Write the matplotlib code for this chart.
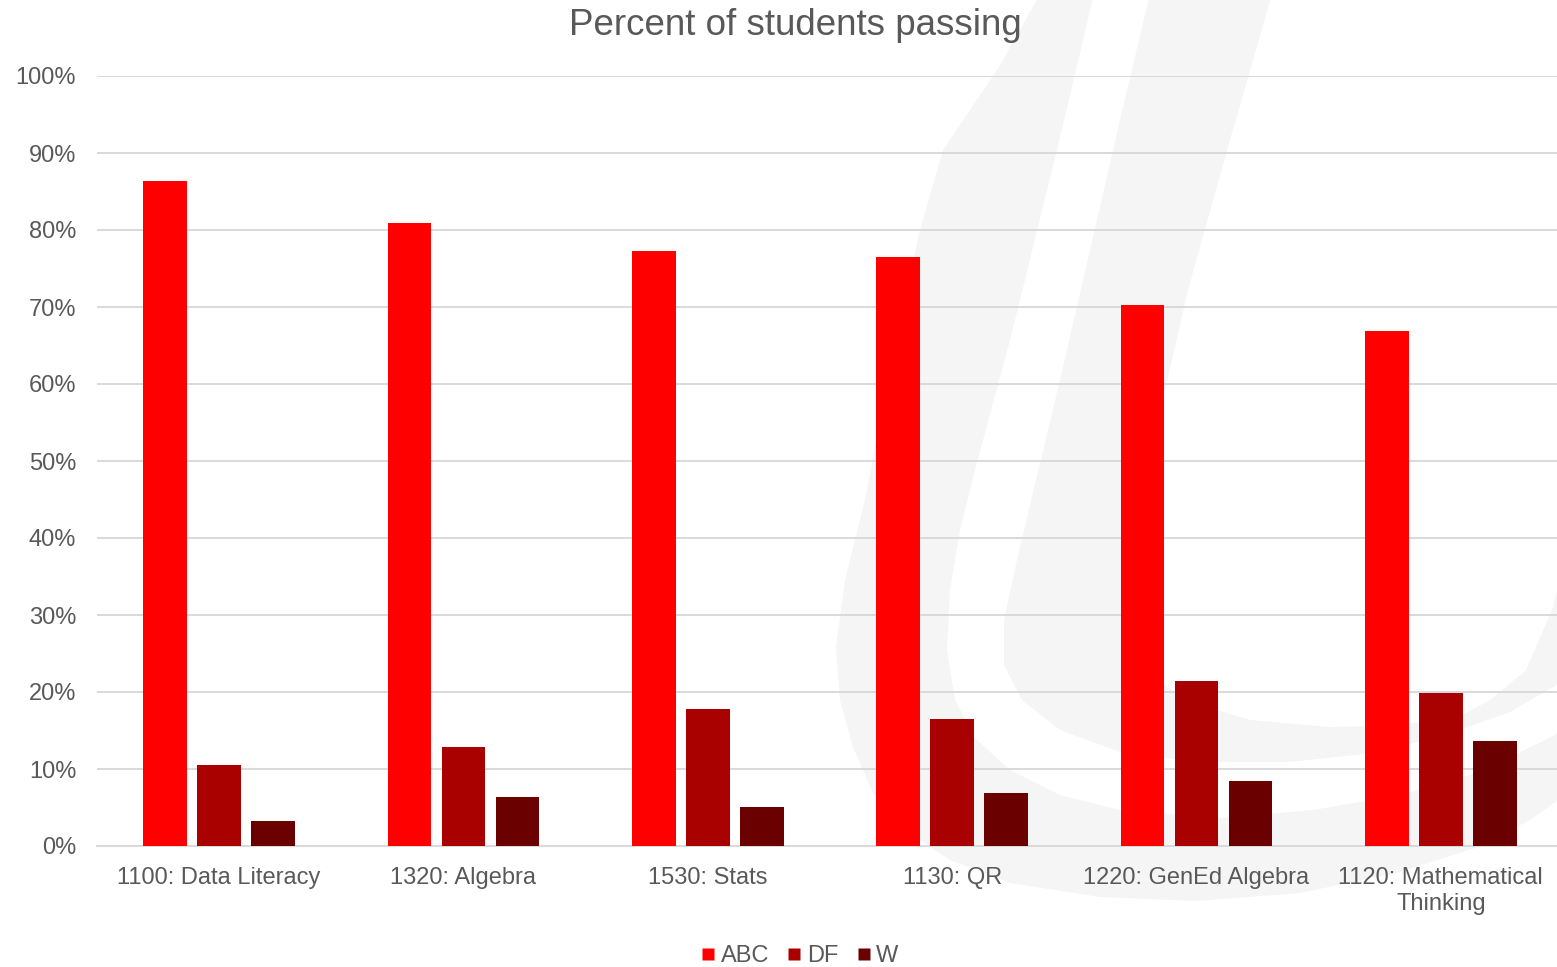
import matplotlib
matplotlib.use("Agg")
import matplotlib.pyplot as plt
import numpy as np
from matplotlib.patches import Polygon
from matplotlib.lines import Line2D

plt.rcParams['font.family'] = ['Liberation Sans', 'DejaVu Sans']

# Course pass-rate breakdown
courses = ["1100: Data Literacy", "1320: Algebra", "1530: Stats", "1130: QR",
           "1220: GenEd Algebra", "1120: Mathematical\nThinking"]
abc = [86.4, 80.9, 77.3, 76.5, 70.3, 66.9]
df = [10.5, 12.9, 17.8, 16.5, 21.4, 19.9]
w = [3.2, 6.4, 5.1, 6.9, 8.4, 13.6]
series_names = ["ABC", "DF", "W"]
yticks = list(range(0, 101, 10))

colors = ["#FF0000", "#A90000", "#6B0000"]
text_color = "#595959"
grid_color = "#D9D9D9"
mark_color = "#F5F5F5"

W_PX, H_PX = 1557, 967
fig = plt.figure(figsize=(W_PX / 100, H_PX / 100), dpi=100)

# Background layer for the faint brush-stroke "U" emblem
bg = fig.add_axes([0, 0, 1, 1], zorder=-5)
bg.set_xlim(0, W_PX)
bg.set_ylim(H_PX, 0)
bg.axis("off")

outer_a = [(1038, -2), (999, 67), (960, 125), (943, 150), (920, 230), (900, 320),
           (880, 420), (865, 500), (845, 580), (836, 647), (840, 700), (853, 747),
           (873, 793), (905, 830), (950, 860), (1010, 883), (1100, 897), (1196, 901),
           (1300, 893), (1400, 872), (1478, 847), (1530, 820), (1565, 795)]
inner_a = [(1565, 730), (1480, 772), (1400, 795), (1313, 810), (1220, 818),
           (1120, 810), (1060, 795), (1010, 770), (975, 738), (955, 700), (947, 650),
           (950, 590), (960, 530), (975, 470), (1010, 340), (1057, 150), (1093, -2)]
outer_b = [(1149, -2), (1120, 120), (1090, 250), (1060, 380), (1036, 480), (1017, 560),
           (1004, 620), (1004, 665), (1022, 700), (1060, 730), (1120, 752), (1200, 762),
           (1290, 762), (1364, 754), (1440, 737), (1510, 712), (1565, 680)]
inner_b = [(1565, 560), (1552, 610), (1526, 670), (1490, 700), (1462, 715), (1400, 725),
           (1330, 727), (1250, 720), (1190, 702), (1150, 675), (1130, 640), (1125, 590),
           (1135, 520), (1165, 390), (1188, 290), (1230, 140), (1271, -2)]
for edge_out, edge_in in ((outer_a, inner_a), (outer_b, inner_b)):
    bg.add_patch(Polygon(edge_out + edge_in, closed=True, facecolor=mark_color,
                         edgecolor="none"))

ax = fig.add_axes([97 / W_PX, 1 - 846 / H_PX, (1563 - 97) / W_PX, (846 - 76) / H_PX],
                  zorder=1)
ax.set_facecolor("none")

x = np.arange(len(courses))
bar_w = 0.18
offsets = [-0.221, 0.0, 0.221]
for vals, off, col, name in zip((abc, df, w), offsets, colors, series_names):
    ax.bar(x + off, vals, width=bar_w, color=col, label=name, zorder=3)

ax.set_xlim(-0.5, len(courses) - 0.5)
ax.set_ylim(0, 100)
ax.set_yticks(yticks)
ax.set_yticklabels([f"{t}%" for t in yticks])
ax.set_xticks(x)
ax.set_xticklabels(courses, linespacing=1.25)
ax.tick_params(axis="both", length=0, labelsize=17, labelcolor=text_color)
ax.tick_params(axis="y", pad=15)
ax.tick_params(axis="x", pad=15)

ax.grid(axis="y", color=grid_color, linewidth=1.4, zorder=1)
ax.set_axisbelow(True)
for s in ("top", "right", "left"):
    ax.spines[s].set_visible(False)
ax.spines["bottom"].set_color(grid_color)
ax.spines["bottom"].set_linewidth(1.4)

fig.text(795 / W_PX, 1 - 35 / H_PX, "Percent of students passing", ha="center",
         va="baseline", fontsize=26.5, color=text_color)

handles = [Line2D([], [], marker="s", linestyle="none", markersize=8.6,
                  markerfacecolor=c, markeredgecolor="none") for c in colors]
fig.legend(handles, series_names, loc="center", ncol=3,
           bbox_to_anchor=(800 / W_PX, 1 - 956 / H_PX), frameon=False,
           fontsize=17, labelcolor=text_color, handlelength=0.55,
           handletextpad=0.25, columnspacing=0.8, borderaxespad=0, borderpad=0)

fig.savefig("out.png", dpi=100)
